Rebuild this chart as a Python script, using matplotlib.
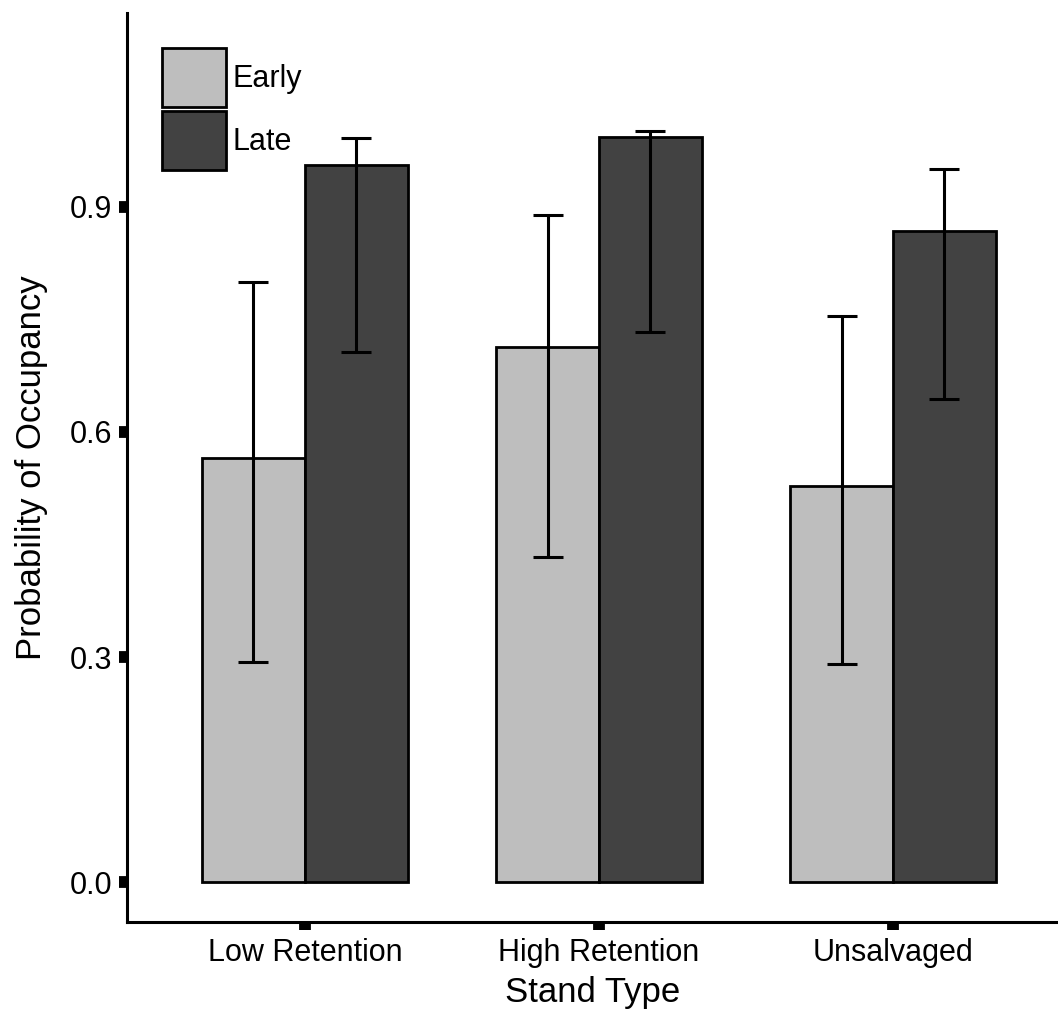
import matplotlib
matplotlib.use("Agg")
import matplotlib.pyplot as plt
import numpy as np

plt.rcParams['font.family'] = ['Liberation Sans', 'DejaVu Sans']

categories = ["Low Retention", "High Retention", "Unsalvaged"]
periods = ["Early", "Late"]
early_vals = [0.565, 0.713, 0.528]
early_lo = [0.293, 0.433, 0.291]
early_hi = [0.800, 0.889, 0.755]
late_vals = [0.956, 0.993, 0.868]
late_lo = [0.707, 0.733, 0.644]
late_hi = [0.992, 1.001, 0.951]
yticks = [0.0, 0.3, 0.6, 0.9]
ytick_labels = ["0.0", "0.3", "0.6", "0.9"]

colors = {"Early": "#BEBEBE", "Late": "#424242"}

fig = plt.figure(figsize=(10.58, 10.11), dpi=100)
ax = fig.add_axes([127/1058, 1 - 922/1011, 1 - 127/1058, (922 - 12.7)/1011])

x = np.arange(1, len(categories) + 1)
w = 0.35
series = [(early_vals, early_lo, early_hi, "Early", -w/2),
          (late_vals, late_lo, late_hi, "Late", w/2)]
for vals, lo, hi, name, off in series:
    vals = np.array(vals); lo = np.array(lo); hi = np.array(hi)
    ax.bar(x + off, vals, width=w, color=colors[name], edgecolor="black",
           linewidth=2.0, label=name, zorder=2)
    ax.errorbar(x + off, vals, yerr=[vals - lo, hi - vals], fmt="none",
                ecolor="black", elinewidth=2.2, capsize=11, capthick=2.2, zorder=3)

ax.set_xlim(0.395, 3.561)
ax.set_ylim(-0.0533, 1.159)
ax.set_xticks(x)
ax.set_xticklabels(categories)
ax.set_yticks(yticks)
ax.set_yticklabels(ytick_labels)

for s in ["top", "right"]:
    ax.spines[s].set_visible(False)
for s in ["left", "bottom"]:
    ax.spines[s].set_linewidth(2.2)
ax.tick_params(axis="both", direction="out", length=5.5, width=8.5, labelsize=22,
               colors="black", pad=6)
ax.tick_params(axis="y", pad=5)

ax.set_xlabel("Stand Type", fontsize=25, labelpad=6)
ax.set_ylabel("Probability of Occupancy", fontsize=25, labelpad=16)

leg = ax.legend(loc="upper left", bbox_to_anchor=((162 - 127)/931, (922 - 48)/909.3),
                frameon=False, fontsize=22, handlelength=2.1, handleheight=2.6,
                labelspacing=0.13, handletextpad=0.2, borderpad=0, borderaxespad=0)
for p in leg.get_patches():
    p.set_linewidth(2.0)

fig.savefig("out.png", dpi=100)
